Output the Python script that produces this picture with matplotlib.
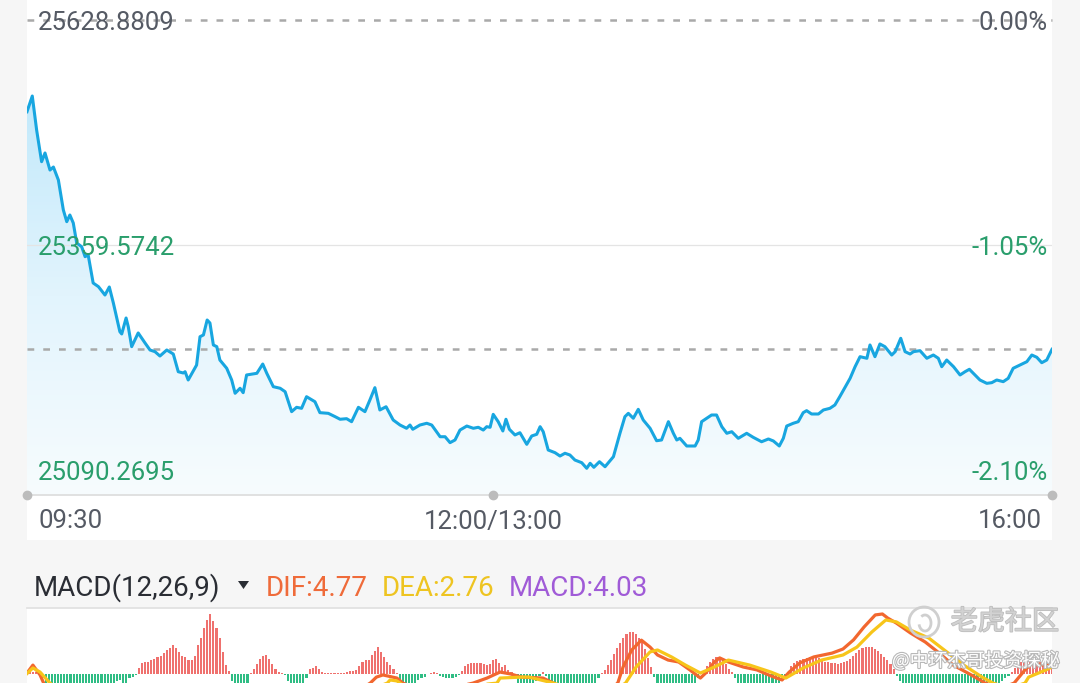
import numpy as np
import matplotlib
matplotlib.use('Agg')
import matplotlib.pyplot as plt
from matplotlib.colors import LinearSegmentedColormap
from matplotlib.patches import Rectangle, Ellipse, Polygon, Arc
import matplotlib.transforms as mtransforms
import matplotlib.patheffects as pe

plt.rcParams['font.family'] = ['Roboto', 'Noto Sans CJK SC', 'DejaVu Sans']

# ---------------- data ----------------
prev_close = 25628.8809
axis_values = [25628.8809, 25359.5742, 25090.2695]
pct_labels = ['0.00%', '-1.05%', '-2.10%']
time_ticks = [0, 150, 330]
time_labels = ['09:30', '12:00/13:00', '16:00']

price_minutes = [
    0, 1.7, 3.1, 4.7, 5.8, 7.4, 8.5, 10.1, 11.7, 12.8,
    13.8, 14.9, 16.0, 17.6, 18.7, 19.7, 21.3, 23.0, 25.1, 26.5,
    27.8, 29.9, 30.5, 31.9, 32.6, 33.7, 35.8, 38.0, 39.6, 41.2,
    42.8, 45.0, 47.1, 48.7, 50.3, 50.9, 51.9, 54.6, 55.7, 56.8,
    58.0, 58.9, 60.0, 61.1, 62.1, 64.3, 65.9, 67.0, 68.6, 69.6,
    70.7, 74.0, 75.9, 77.2, 79.3, 81.5, 83.1, 85.2, 86.8, 88.4,
    90.0, 92.7, 94.3, 97.0, 99.2, 100.8, 102.9, 104.5, 106.7, 108.8,
    110.4, 112.0, 113.6, 115.6, 117.9, 120.1, 122.2, 123.3, 124.2, 126.5,
    128.7, 130.3, 133.0, 134.6, 136.2, 137.8, 139.4, 141.6, 143.7, 145.3,
    146.9, 148.0, 149.1, 150.1, 151.7, 153.2, 154.2, 155.3, 157.1, 158.7,
    160.9, 162.5, 164.1, 165.2, 166.2, 167.8, 170.0, 171.6, 173.2, 174.8,
    176.4, 178.6, 180.2, 181.3, 182.5, 184.3, 186.1, 188.8, 190.9, 192.5,
    193.6, 195.2, 196.8, 198.4, 200.6, 202.7, 204.3, 206.5, 208.1, 209.2,
    210.2, 212.4, 215.1, 216.1, 217.2, 219.3, 220.4, 222.0, 223.7, 225.3,
    226.9, 229.0, 231.7, 233.8, 236.5, 238.7, 240.3, 242.2, 243.5, 244.6,
    246.7, 248.3, 249.9, 251.0, 252.6, 254.8, 256.4, 258.5, 260.1, 261.7,
    265.0, 266.6, 268.2, 270.4, 271.4, 273.0, 274.6, 276.2, 278.4, 279.5,
    281.3, 282.7, 284.3, 285.4, 287.5, 289.7, 291.8, 293.4, 294.5, 296.1,
    298.3, 300.4, 302.0, 303.4, 305.2, 306.8, 309.0, 310.6, 312.2, 314.3,
    315.9, 317.5, 319.7, 321.9, 323.5, 325.1, 326.7, 328.3, 330.0,
]
prices = [
    25519.1, 25537.9, 25497.2, 25459.3, 25469.7, 25449.3, 25452.9, 25437.4, 25401.5, 25387.5,
    25395.5, 25385.9, 25362.0, 25357.5, 25345.6, 25347.6, 25314.1, 25309.7, 25299.7, 25309.3,
    25290.2, 25255.8, 25253.1, 25272.2, 25261.8, 25237.9, 25254.3, 25242.3, 25233.9, 25231.9,
    25226.7, 25233.9, 25229.1, 25207.9, 25206.4, 25207.9, 25198.0, 25215.9, 25249.8, 25251.9,
    25269.8, 25266.2, 25239.9, 25237.9, 25221.9, 25212.0, 25198.0, 25182.1, 25188.1, 25182.8,
    25204.0, 25206.0, 25217.1, 25206.0, 25190.0, 25188.1, 25184.0, 25160.1, 25165.3, 25164.1,
    25178.0, 25172.0, 25158.9, 25158.1, 25154.1, 25151.0, 25151.7, 25148.1, 25165.3, 25160.1,
    25174.1, 25188.8, 25162.1, 25166.0, 25150.1, 25144.1, 25140.2, 25144.1, 25139.0, 25144.1,
    25146.2, 25144.1, 25130.1, 25130.1, 25123.0, 25126.2, 25138.1, 25142.9, 25140.2, 25141.4,
    25138.1, 25142.1, 25141.4, 25156.9, 25148.1, 25137.0, 25151.0, 25139.0, 25132.2, 25134.9,
    25121.0, 25131.0, 25133.0, 25142.1, 25136.1, 25114.2, 25111.0, 25107.0, 25110.3, 25108.2,
    25102.2, 25099.0, 25092.3, 25098.3, 25093.5, 25100.2, 25094.2, 25106.2, 25134.2, 25154.1,
    25158.1, 25152.2, 25162.9, 25150.1, 25140.2, 25125.3, 25126.2, 25148.1, 25134.2, 25126.2,
    25128.2, 25119.0, 25119.0, 25126.2, 25148.1, 25153.3, 25156.1, 25156.1, 25142.1, 25134.2,
    25136.1, 25128.2, 25134.2, 25129.4, 25124.1, 25127.4, 25125.0, 25119.0, 25128.2, 25142.9,
    25146.2, 25148.1, 25158.9, 25161.3, 25157.3, 25157.3, 25162.1, 25164.1, 25168.1, 25178.2,
    25200.0, 25213.9, 25225.9, 25224.0, 25239.9, 25225.9, 25241.1, 25237.9, 25227.9, 25231.9,
    25247.9, 25231.9, 25229.1, 25231.9, 25233.1, 25224.0, 25227.9, 25224.0, 25213.9, 25221.9,
    25213.9, 25204.0, 25207.9, 25210.8, 25204.0, 25198.0, 25194.0, 25194.8, 25198.0, 25196.0,
    25200.0, 25212.0, 25215.9, 25219.9, 25227.9, 25225.2, 25218.7, 25221.9, 25234.7,
]

# one MACD histogram bar per trading minute (0..330)
macd_hist = [
    0, 0.5, 0.8, 0.5, -0.5, -2, -6, -9, -11, -12,
    -13, -13, -14, -14, -14, -13, -13, -13, -12, -12,
    -12, -11, -11, -11, -10, -10, -9, -9, -7, -3,
    -2.5, -6, -4, -2, -1.5, -0.8, 2.5, 4.2, 4.7, 5.0,
    5.6, 6.0, 6.8, 7.5, 8.5, 9.8, 10.8, 11.9, 10.8, 8.8,
    7.5, 6.8, 5.8, 5.6, 7.5, 12.0, 15.0, 19.0, 22.5, 24.8,
    22.0, 19.0, 15.0, 9.0, 3.5, 1.0, -3, -6, -7, -7,
    -6, -4, 0.3, 2.0, 3.8, 6.0, 7.5, 7.8, 6.0, 4.0,
    2.0, 0.8, 0.2, -0.5, -3, -6, -8, -8, -7, -5,
    -2, 2.0, 2.2, 3.0, 1.8, 0.5, 0.1, 0.2, 0.1, 0.3,
    0.2, 0.3, 0.4, 0.6, 0.9, 1.1, 1.5, 3.0, 5.0, 5.6,
    5.8, 7.7, 9.3, 10.9, 9.0, 7.0, 5.0, 3.5, 1.8, 0.3,
    -3, -5, -6, -6, -5, -4, -2.5, -2, -1.5, -0.3,
    0.3, 0.8, 0.2, -1.0, -1.5, -2.0, -2.0, -1.8, -1.5, -0.5,
    1.2, 3.0, 4.0, 4.3, 4.5, 4.5, 4.2, 4.0, 3.5, 4.0,
    5.5, 5.9, 4.2, 2.8, 3.5, 1.5, 0.5,
    -2, -4, -5, -6, -6, -6, -5, -3, -1,
    0.8,
    -1, -3, -5, -6, -7, -8, -8, -8, -8, -7, -7, -7, -6, -6, -6, -5, -4, -2,
    0.3, 1.5, 3.5, 5.8, 8.0, 10.5, 12.8, 15.0, 16.5, 17.4, 17.4, 16.5, 15.0, 13.0, 10.2, 6.5, 2.8,
    -1.5, -4, -6, -7, -8, -9, -9, -9, -8, -8, -7, -7, -6, -4, -2,
    0.3, 1.2, 3.0, 4.8, 6.0, 6.7, 6.7, 5.5, 3.8, 2.0, 0.5,
    -2, -4, -5, -6, -6, -6, -6, -6, -5, -5, -5, -5, -5, -4, -4, -3, -2, -1,
    3.0, 4.5, 5.2, 5.6, 6.0, 6.4, 6.9, 7.2, 7.0, 6.4, 5.7, 5.0, 4.6, 4.3, 4.2, 4.0, 4.3,
    4.7, 5.3, 6.2, 7.3, 8.6, 9.8, 10.5, 11.0, 11.2, 11.0, 10.4, 9.5, 8.2, 7.0, 5.5, 3.8, 1.8,
    -1, -3, -5, -7, -8, -9, -10, -10, -11, -11, -12, -12, -12, -12, -12, -12, -12, -11, -11,
    -11, -10, -10, -10, -9, -9, -8, -8, -7, -7, -6, -6, -5, -4, -4, -3, -2, -1,
    0.8, 2.2, 3.5, 4.9, 5.6, 5.9, 5.2, 4.4, 4.6, 4.9, 4.9, 4.4, 4.2, 4.03,
]

dif_minutes = [0, 1.9, 4.2, 6.4, 10, 20, 35, 50, 60, 70, 80, 90, 100, 108, 110.5, 112.5,
               114.6, 119.1, 121, 125, 135, 143.6, 148.1, 152.3, 155.7, 159.2, 166.1, 169.5,
               176.6, 185.2, 190.2, 191.9, 194.7, 197.8, 200.6, 203.0, 206.4, 209.8, 213.4,
               216.8, 218.5, 221.3, 223.0, 225.8, 230.6, 235.0, 239.5, 243.1, 245.4, 248.8,
               253.3, 259.2, 262.7, 266.1, 269.5, 273.1, 275.4, 277.1, 279.9, 284.4, 289.2,
               293.7, 298.2, 304.0, 308.5, 313.8, 317.8, 321.3, 323.7, 327.2, 330]
dif_values = [0.2, 3.5, -0.6, -7, -15, -28, -34, -22, -12, -15, -12, -14, -10, -6, -4, -1.5,
              -0.6, -1.9, -4, -6, -6.5, -4, -1.9, 0.6, -0.2, -1.5, -1.9, -4,
              -10, -9, -4, 2.7, 9.8, 13.9, 11.0, 7.7, 5.6, 4.8, 1.5,
              -1.9, 0.2, 4.8, 6.5, 4.8, 2.7, 1.5, -1.0, -2.7, 0.6, 4.4,
              6.9, 8.5, 10.2, 14.0, 19.4, 24.4, 24.8, 23.1, 21.0, 16.9, 13.1,
              8.5, 3.5, -0.6, -4, -6, -4, 1.5, 4.4, 3.5, 4.77]

dea_minutes = [0, 1.9, 4.2, 7.4, 12, 20, 35, 45, 60, 80, 100, 112, 116, 116.9, 119.1, 121,
               130, 140, 151.3, 152.3, 159.2, 161.6, 169.5, 179.8, 188.4, 192.7, 196.1, 200.6,
               203.0, 207.5, 212.0, 216.8, 221.3, 225.8, 232.7, 239.5, 244.3, 249.9, 255.8,
               262.7, 267.2, 272.0, 276.5, 279.9, 284.4, 290.3, 296.1, 301.6, 307.5, 311.0,
               314.8, 319.0, 321.3, 322.5, 328.1, 330]
dea_values = [0.0, 2.3, 0.6, -4, -8, -14, -33, -30, -24, -16, -11, -6, -4, -2.7, -3.1, -4.8,
              -5.5, -5.5, -4, -1.9, -1.5, -1.5, -4, -8, -7.5, -4, 2.7, 9.0,
              9.8, 6.9, 3.5, 0.2, 2.7, 5.6, 3.5, 0.6, -1.9, 2.3, 5.6,
              7.7, 11.0, 17.3, 22.3, 21.5, 18.1, 14.8, 9.0, 3.5, -1.5, -4,
              -5.5, -5, -4, -1.5, 1.5, 2.76]

macd_params = (12, 26, 9)
dif_last, dea_last, macd_last = 4.77, 2.76, 4.03

# ---------------- layout helpers ----------------
W, H = 1080, 683
fig = plt.figure(figsize=(W / 100, H / 100), dpi=100, facecolor='#f6f6f6')


def fx(px):
    return px / W


def fy(py):
    return 1 - py / H


PL, PR = 27, 1052  # panel left/right px

fig.add_artist(Rectangle((fx(PL), fy(540)), fx(PR - PL), 540 / H, transform=fig.transFigure,
                         facecolor='white', edgecolor='none', zorder=-5))
fig.add_artist(Rectangle((fx(PL), 0), fx(PR - PL), fy(608), transform=fig.transFigure,
                         facecolor='white', edgecolor='none', zorder=-5))

# ---------------- price panel ----------------
ax = fig.add_axes([fx(PL), fy(495), fx(PR - PL), 495 / H])
ax.axis('off')
pp = (axis_values[0] - axis_values[2]) / 450.0
ytop = axis_values[0] + 20 * pp
ybot = axis_values[0] - 475 * pp
ax.set_xlim(0, 330)
ax.set_ylim(ybot, ytop)

poly = ax.fill_between(price_minutes, prices, ybot, facecolor='none', edgecolor='none')
cmap = LinearSegmentedColormap.from_list('g', ['#c2e9fb', '#e2f4fd', '#f7fcfe'])
grad = np.linspace(0, 1, 256).reshape(-1, 1)
im = ax.imshow(grad, extent=[0, 330, ybot, max(prices)], aspect='auto', cmap=cmap,
               origin='upper', zorder=1, interpolation='bilinear')
im.set_clip_path(poly.get_paths()[0], ax.transData)
ax.set_xlim(0, 330)
ax.set_ylim(ybot, ytop)

ax.plot(price_minutes, prices, color='#18a6e0', lw=2.2, zorder=4, solid_joinstyle='round')

ax.axhline(axis_values[0], color='#a9a9a9', lw=1.8, dashes=(2.7, 3.6), zorder=3, clip_on=False)
ax.axhline(axis_values[1], color='#e4e4e4', lw=0.9, zorder=2)
ax.axhline(prices[-1], color='#a9a9a9', lw=1.8, dashes=(2.7, 3.6), zorder=3)
ax.plot([0, 330], [ybot, ybot], color='#dcdcdc', lw=1.2, clip_on=False, zorder=3)
ax.plot(time_ticks, [ybot] * 3, 'o', ms=6, color='#bcbcbc', clip_on=False, zorder=5)


def off(dx, dy):
    return mtransforms.offset_copy(ax.transData, fig=fig, x=dx, y=dy, units='dots')


grey_txt = '#555a64'
green_txt = '#2a9e6c'
fs = 18.5
for i, (v, p) in enumerate(zip(axis_values, pct_labels)):
    col = grey_txt if i == 0 else green_txt
    ax.text(0, v, f'{v:.4f}', transform=off(11, -9.5), ha='left', va='baseline',
            fontsize=fs, color=col, zorder=6)
    ax.text(330, v, p, transform=off(-4, -9.5), ha='right', va='baseline',
            fontsize=fs, color=col, zorder=6)

aligns = ['left', 'center', 'right']
dxs = [11, 0, -10]
for t, lab, ha, dx in zip(time_ticks, time_labels, aligns, dxs):
    ax.text(t, ybot, lab, transform=off(dx, -33.5), ha=ha, va='baseline',
            fontsize=fs, color=grey_txt)

# ---------------- MACD header ----------------
hfs = 20
fig.text(fx(34), fy(596), 'MACD(%d,%d,%d)' % macd_params, fontsize=hfs, color='#2a2d34',
         ha='left', va='baseline')
fig.add_artist(Polygon([[fx(238), fy(581)], [fx(249), fy(581)], [fx(243.5), fy(589)]],
                       closed=True, transform=fig.transFigure, facecolor='#2a2d34',
                       edgecolor='none'))
fig.text(fx(266), fy(596), f'DIF:{dif_last:.2f}', fontsize=hfs, color='#ef6b3a',
         ha='left', va='baseline')
fig.text(fx(382), fy(596), f'DEA:{dea_last:.2f}', fontsize=hfs, color='#eec421',
         ha='left', va='baseline')
fig.text(fx(509), fy(596), f'MACD:{macd_last:.2f}', fontsize=hfs, color='#a05bd7',
         ha='left', va='baseline')

# ---------------- MACD panel ----------------
mac = fig.add_axes([fx(PL), 0, fx(PR - PL), 75 / H])
mac.axis('off')
vb = (673.5 - 683) / 2.4
vt = (673.5 - 608) / 2.4
mac.set_xlim(0, 330)
mac.set_ylim(vb, vt)
mac.axhline(vt, color='#e2e2e2', lw=1.3, clip_on=False)
hx = np.arange(len(macd_hist))
hv = np.array(macd_hist)
cols = np.where(hv >= 0, '#ef716e', '#2fbd84')
mac.bar(hx, hv, width=0.68, color=cols, zorder=2)
mac.plot(dif_minutes, dif_values, color='#f2672f', lw=2.3, zorder=3, solid_joinstyle='round')
mac.plot(dea_minutes, dea_values, color='#f7c51a', lw=2.3, zorder=4, solid_joinstyle='round')

# ---------------- watermark ----------------
fig.add_artist(Ellipse((fx(924), fy(622)), 30 / W, 30 / H, transform=fig.transFigure,
                       facecolor='none', edgecolor='#cfcfcf', lw=2, zorder=10))
fig.add_artist(Arc((fx(925), fy(623)), 12 / W, 16 / H, theta1=200, theta2=470,
                   transform=fig.transFigure, edgecolor='#cfcfcf', lw=2, zorder=10))
fig.text(fx(1005), fy(622), '老虎社区', fontsize=19.5, color='#d2d2d2', ha='center',
         va='center', family=['Noto Sans CJK SC'], zorder=10,
         path_effects=[pe.withStroke(linewidth=1.2, foreground='#bdbdbd')])
fig.text(fx(892), fy(661), '@中环杰哥投资探秘', fontsize=13.5, color='white', ha='left',
         va='center', family=['Noto Sans CJK SC'], zorder=10,
         path_effects=[pe.withStroke(linewidth=1.6, foreground='#b8b8b8')])

fig.savefig('out.png', dpi=100, facecolor=fig.get_facecolor())
